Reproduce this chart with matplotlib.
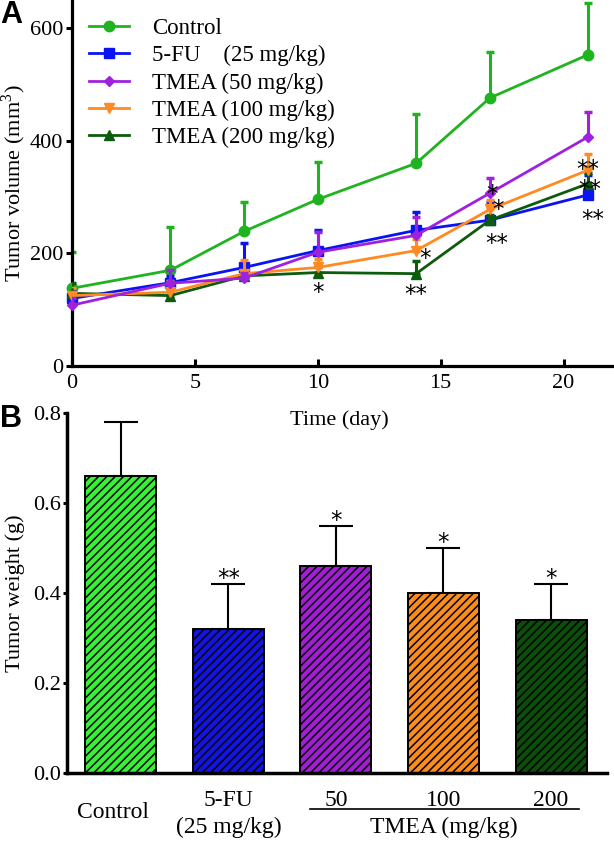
import numpy as np
import matplotlib
matplotlib.use("Agg")
import matplotlib.pyplot as plt

# ---------------- data ----------------
days = [0, 4, 7, 10, 14, 17, 21]
series_labels = ["Control", "5-FU    (25 mg/kg)", "TMEA (50 mg/kg)",
                 "TMEA (100 mg/kg)", "TMEA (200 mg/kg)"]
control = [138, 170, 239, 296, 360, 476, 553]
control_err = [64, 76, 53, 66, 87, 81, 92]
fu = [120, 148, 175, 205, 241, 259, 304]
fu_err = [14, 12, 43, 36, 32, 32, 36]
tmea50 = [108, 147, 156, 202, 232, 307, 407]
tmea50_err = [12, 23, 10, 36, 32, 26, 44]
tmea100 = [125, 131, 164, 175, 205, 278, 348]
tmea100_err = [13, 20, 24, 15, 20, 16, 29]
tmea200 = [129, 125, 160, 166, 164, 259, 324]
tmea200_err = [19, 10, 8, 10, 22, 10, 18]

# (series index, day index, text, dx pt, dy pt)
line_stars = [
    (4, 3, "*", 0, -9.4),
    (3, 4, "*", 6.5, -0.5),
    (4, 4, "**", 0, -10),
    (2, 5, "*", 1.5, 3.6),
    (3, 5, "*", 5.8, 5),
    (4, 5, "**", 5, -12),
    (3, 6, "**", 0, 5),
    (4, 6, "**", 1, 1),
    (1, 6, "**", 3.5, -13),
]

bar_categories = ["Control", "5-FU", "50", "100", "200"]
bar_means = [0.66, 0.32, 0.46, 0.40, 0.34]
bar_err = [0.12, 0.10, 0.09, 0.10, 0.08]
bar_stars = ["", "**", "*", "*", "*"]

# ---------------- style ----------------
plt.rcParams["font.family"] = ["Liberation Serif", "DejaVu Serif"]
plt.rcParams["mathtext.fontset"] = "custom"
plt.rcParams["mathtext.rm"] = "Liberation Serif"
plt.rcParams["hatch.linewidth"] = 1.1

line_colors = ["#1fb41f", "#0a14f2", "#a020e0", "#ff8a22", "#0c5c0c"]
bar_colors = ["#38f038", "#1414e0", "#a21ed4", "#fb8c1e", "#0a4e0a"]
markers = ["o", "s", "D", "v", "^"]
msizes = [7.5, 7, 5.5, 7.5, 7.5]
zorders = [3, 4, 6, 5, 4.5]

fig = plt.figure(figsize=(6.14, 8.41), dpi=100)

# ---------------- panel A ----------------
axA = fig.add_axes([72 / 614, 1 - 366 / 841, (614 - 72) / 614, 366 / 841])
means = [control, fu, tmea50, tmea100, tmea200]
errs = [control_err, fu_err, tmea50_err, tmea100_err, tmea200_err]
for i in range(5):
    m = np.array(means[i], dtype=float)
    e = np.array(errs[i], dtype=float)
    axA.errorbar(days, m, yerr=[np.zeros_like(e), e], fmt="none",
                 ecolor=line_colors[i], elinewidth=2.2, capsize=3.2,
                 capthick=2.5, zorder=zorders[i] - 0.5)
    axA.plot(days, m, color=line_colors[i], lw=2.0, marker=markers[i],
             markersize=msizes[i], markeredgecolor=line_colors[i],
             label=series_labels[i], zorder=zorders[i], clip_on=False)

for si, di, txt, dx, dy in line_stars:
    axA.annotate(txt, xy=(days[di], means[si][di]), xytext=(dx, dy - 9.6),
                 textcoords="offset points", ha="center", va="baseline",
                 fontsize=16.5, family="DejaVu Sans", zorder=10)

axA.set_xlim(0, 22.05)
axA.set_ylim(0, 650)
axA.set_xticks([0, 5, 10, 15, 20])
axA.set_yticks([0, 200, 400, 600])
for s in ["top", "right"]:
    axA.spines[s].set_visible(False)
for s in ["left", "bottom"]:
    axA.spines[s].set_linewidth(2.3)
axA.tick_params(axis="x", direction="in", length=5, width=2.2, labelsize=16, pad=6)
axA.tick_params(axis="y", direction="out", length=4, width=2.2, labelsize=16, pad=2.5)
axA.set_xlabel("Time (day)", fontsize=16)
axA.xaxis.set_label_coords(0.494, -0.12)
axA.set_ylabel("Tumor volume (mm$^3$)", fontsize=16)
axA.yaxis.set_label_coords(-0.082, 0.5)
leg = axA.legend(loc="upper left", bbox_to_anchor=(0.031, 0.95), frameon=False,
                 fontsize=16.5, handlelength=1.75, handletextpad=1.0,
                 labelspacing=0.26, borderpad=0, borderaxespad=0)

fig.text(0.0, 1.0, "A", fontsize=22, fontweight="bold", family="Liberation Sans",
         ha="left", va="top")

# ---------------- panel B ----------------
axB = fig.add_axes([67 / 614, 1 - 773 / 841, (607 - 67) / 614, (773 - 413) / 841])
axB.patch.set_alpha(0)
x = np.arange(len(bar_categories))
axB.bar(x, bar_means, width=0.66, color=bar_colors, edgecolor="black",
        linewidth=1.4, hatch="////", zorder=2)
be = np.array(bar_err)
axB.errorbar(x, bar_means, yerr=[np.zeros_like(be), be], fmt="none",
             ecolor="black", elinewidth=1.5, capsize=12.5, capthick=1.5, zorder=1)
for xi, m, e, st in zip(x, bar_means, bar_err, bar_stars):
    if st:
        axB.annotate(st, xy=(xi, m + e), xytext=(0, 8.6 - 9.6),
                     textcoords="offset points", ha="center", va="baseline",
                     fontsize=16.5, family="DejaVu Sans")

axB.set_xlim(-0.5, 4.52)
axB.set_ylim(0, 0.8)
axB.set_yticks([0.0, 0.2, 0.4, 0.6, 0.8])
axB.set_yticklabels(["0.0", "0.2", "0.4", "0.6", "0.8"])
axB.set_xticks([])
for s in ["top", "right"]:
    axB.spines[s].set_visible(False)
for s in ["left", "bottom"]:
    axB.spines[s].set_linewidth(2.5)
axB.tick_params(axis="y", direction="out", length=3, width=2.2, labelsize=16, pad=1)
axB.set_ylabel("Tumor weight (g)", fontsize=16)
axB.yaxis.set_label_coords(-0.078, 0.5)

tr = axB.get_xaxis_transform()
lab_fs = 17
axB.text(x[0] - 0.07, -0.11, bar_categories[0], transform=tr, ha="center",
         va="center", fontsize=lab_fs)
axB.text(x[1], -0.075, bar_categories[1], transform=tr, ha="center",
         va="center", fontsize=lab_fs)
axB.text(x[1], -0.152, "(25 mg/kg)", transform=tr, ha="center",
         va="center", fontsize=lab_fs)
for xi in x[2:]:
    axB.text(xi, -0.075, bar_categories[xi], transform=tr, ha="center",
             va="center", fontsize=lab_fs)
axB.plot([x[2] - 0.24, x[4] + 0.26], [-0.1, -0.1], transform=tr, color="black",
         lw=1.2, clip_on=False)
axB.text(x[3], -0.15, "TMEA (mg/kg)", transform=tr, ha="center", va="center",
         fontsize=lab_fs)

fig.text(0.0, 1 - 404 / 841, "B", fontsize=22, fontweight="bold",
         family="Liberation Sans", ha="left", va="top")

fig.savefig("out.png", dpi=100)
